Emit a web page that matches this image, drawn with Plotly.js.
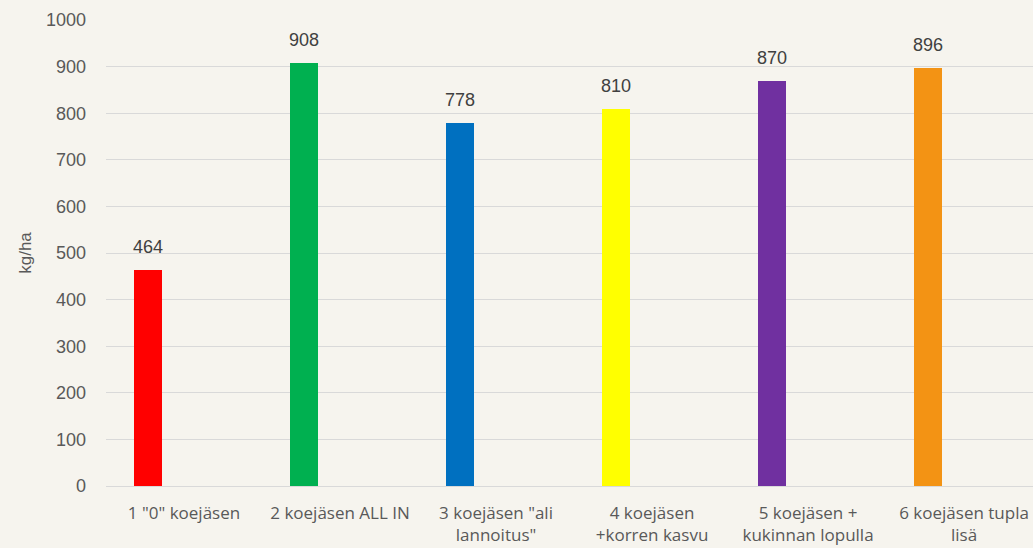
<!DOCTYPE html>
<html>
<head>
<meta charset="utf-8">
<script src="https://cdn.plot.ly/plotly-3.0.1.min.js"></script>
<style>
html,body{margin:0;padding:0;background:#f6f4ee;}
#chart{width:1033px;height:548px;}
</style>
</head>
<body>
<div id="chart"></div>
<script>
const categories = ['1 "0" koejäsen', '2 koejäsen ALL IN', '3 koejäsen "ali<br>lannoitus"', '4 koejäsen<br>+korren kasvu', '5 koejäsen +<br>kukinnan lopulla', '6 koejäsen tupla<br>lisä'];
const values = [464, 908, 778, 810, 870, 896];
const barColors = ['#ff0000', '#00b050', '#0070c0', '#ffff00', '#7030a0', '#f39314'];
const yTicks = [0, 100, 200, 300, 400, 500, 600, 700, 800, 900, 1000];

const numFont = 'Liberation Sans, Arial, sans-serif';
const catFont = 'Open Sans, sans-serif';

// bars sit in the left half of each category slot (clustered layout with an empty second series)
const barWidth = 0.18;
const barCenterOffset = -0.23;

const trace = {
  type: 'bar',
  x: categories,
  y: values,
  marker: {color: barColors},
  width: barWidth,
  offset: barCenterOffset - barWidth / 2,
  cliponaxis: false,
  hoverinfo: 'none'
};

const annotations = categories.map((c, i) => ({
  x: i + barCenterOffset,
  y: values[i],
  xref: 'x',
  yref: 'y',
  text: String(values[i]),
  showarrow: false,
  yanchor: 'bottom',
  yshift: 11,
  font: {family: numFont, size: 18, color: '#404040'}
}));

const layout = {
  width: 1033, height: 548,
  margin: {l: 106, r: 0, t: 20, b: 62},
  paper_bgcolor: '#f6f4ee',
  plot_bgcolor: '#f6f4ee',
  showlegend: false,
  bargap: 0,
  annotations: annotations,
  xaxis: {
    type: 'category',
    range: [-0.5, 5.442],
    showgrid: false,
    showline: false,
    zeroline: false,
    ticks: '',
    ticklabelstandoff: 15,
    tickfont: {family: catFont, size: 17, color: '#595959'},
    automargin: false
  },
  yaxis: {
    range: [0, 1000],
    tickvals: yTicks,
    ticktext: yTicks.map(String),
    showgrid: true,
    gridcolor: '#d9d9d9',
    gridwidth: 1,
    zeroline: true,
    zerolinecolor: '#d9d9d9',
    zerolinewidth: 1,
    showline: false,
    ticks: '',
    ticklabelstandoff: 19,
    tickfont: {family: numFont, size: 18, color: '#595959'},
    title: {text: 'kg/ha', font: {family: numFont, size: 17, color: '#595959'}, standoff: 10},
    automargin: false
  }
};

Plotly.newPlot('chart', [trace], layout, {displayModeBar: false, staticPlot: true});
</script>
</body>
</html>
